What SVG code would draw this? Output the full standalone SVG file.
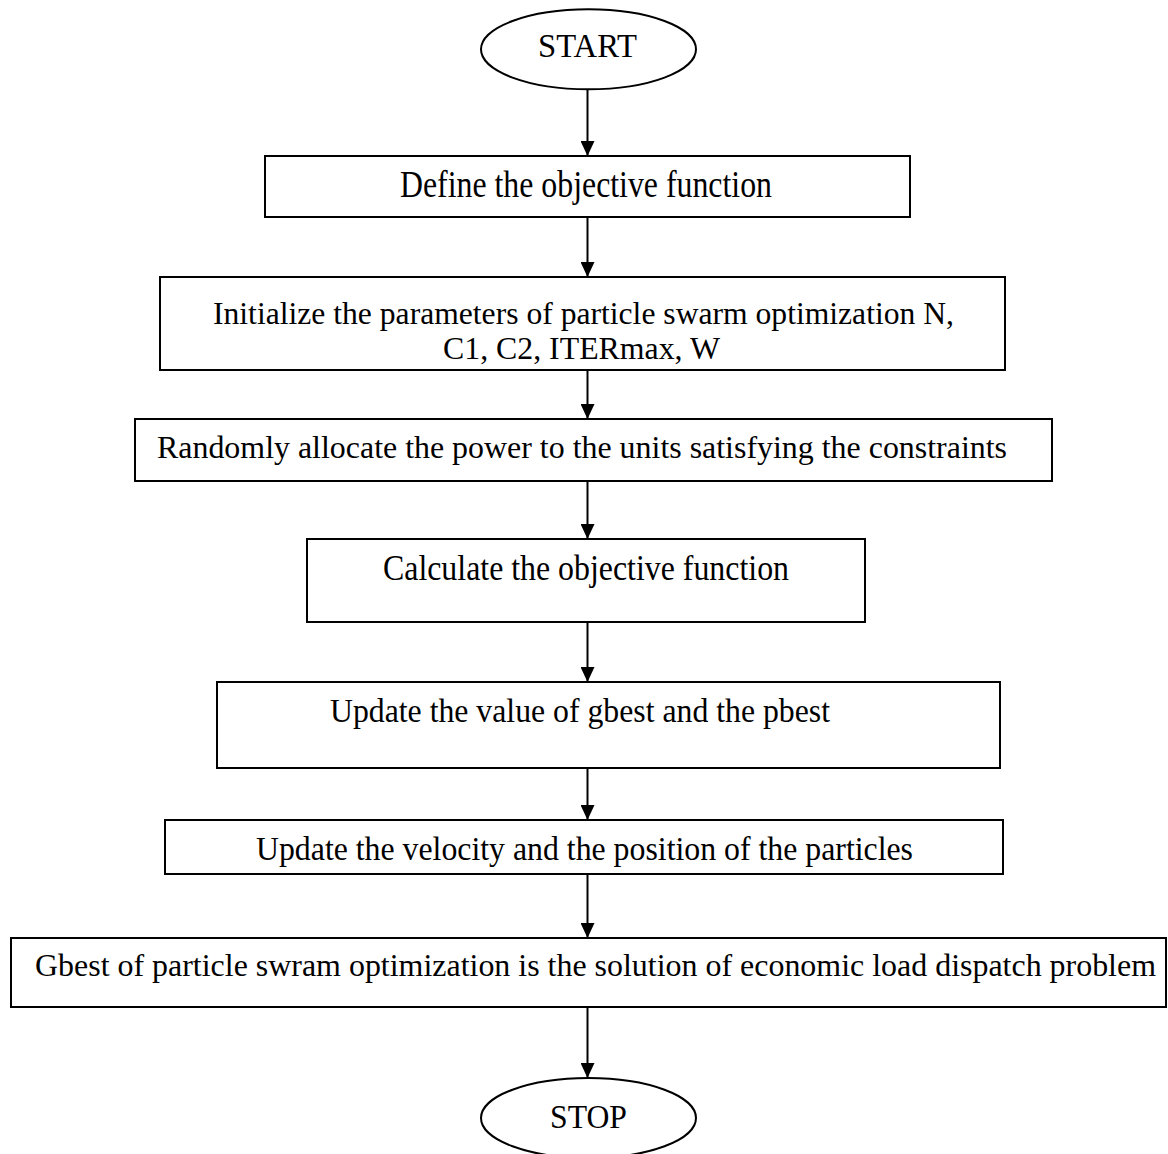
<svg xmlns="http://www.w3.org/2000/svg" width="1168" height="1154" viewBox="0 0 1168 1154">
<style>
.shape{fill:#fff;stroke:#000;stroke-width:2}
.lbl{font-family:"Liberation Serif","Times New Roman",serif;fill:#000;text-anchor:middle}
.conn{stroke:#000;stroke-width:2;fill:none}
</style>
<defs>
<marker id="ah" markerUnits="userSpaceOnUse" markerWidth="15" markerHeight="14" refX="15" refY="7" orient="auto">
<path d="M0,0 L15,7 L0,14 Z" fill="#000"/>
</marker>
</defs>
<rect width="1168" height="1154" fill="#fff"/>
<g id="connectors">
<line class="conn" x1="587.5" y1="89" x2="587.5" y2="156" marker-end="url(#ah)"/>
<line class="conn" x1="587.5" y1="217" x2="587.5" y2="277" marker-end="url(#ah)"/>
<line class="conn" x1="587.5" y1="370" x2="587.5" y2="419" marker-end="url(#ah)"/>
<line class="conn" x1="587.5" y1="481" x2="587.5" y2="539" marker-end="url(#ah)"/>
<line class="conn" x1="587.5" y1="622" x2="587.5" y2="682" marker-end="url(#ah)"/>
<line class="conn" x1="587.5" y1="768" x2="587.5" y2="820" marker-end="url(#ah)"/>
<line class="conn" x1="587.5" y1="874" x2="587.5" y2="938" marker-end="url(#ah)"/>
<line class="conn" x1="587.5" y1="1007" x2="587.5" y2="1078" marker-end="url(#ah)"/>
</g>
<g id="start">
<ellipse class="shape" cx="588.5" cy="49.3" rx="107.5" ry="40"/>
<text class="lbl" x="587.5" y="57.3" font-size="33" textLength="99" lengthAdjust="spacingAndGlyphs">START</text>
</g>
<g id="define">
<rect class="shape" x="265" y="156" width="645" height="61"/>
<text class="lbl" x="586" y="197" font-size="37" textLength="372" lengthAdjust="spacingAndGlyphs">Define the objective function</text>
</g>
<g id="initialize">
<rect class="shape" x="160" y="277" width="845" height="93"/>
<text class="lbl" x="583.5" y="324" font-size="31" textLength="741" lengthAdjust="spacingAndGlyphs">Initialize the parameters of particle swarm optimization N,</text>
<text class="lbl" x="581.5" y="359" font-size="31" textLength="277" lengthAdjust="spacingAndGlyphs">C1, C2, ITERmax, W</text>
</g>
<g id="randomly">
<rect class="shape" x="135" y="419" width="917" height="62"/>
<text class="lbl" x="582" y="458" font-size="31" textLength="850" lengthAdjust="spacingAndGlyphs">Randomly allocate the power to the units satisfying the constraints</text>
</g>
<g id="calculate">
<rect class="shape" x="307" y="539" width="558" height="83"/>
<text class="lbl" x="586" y="580" font-size="35" textLength="406" lengthAdjust="spacingAndGlyphs">Calculate the objective function</text>
</g>
<g id="update-best">
<rect class="shape" x="217" y="682" width="783" height="86"/>
<text class="lbl" x="580" y="722" font-size="33" textLength="500" lengthAdjust="spacingAndGlyphs">Update the value of gbest and the pbest</text>
</g>
<g id="update-velocity">
<rect class="shape" x="165" y="820" width="838" height="54"/>
<text class="lbl" x="584.5" y="860" font-size="34" textLength="657" lengthAdjust="spacingAndGlyphs">Update the velocity and the position of the particles</text>
</g>
<g id="gbest">
<rect class="shape" x="11" y="938" width="1155" height="69"/>
<text class="lbl" x="595.5" y="976" font-size="32" textLength="1121" lengthAdjust="spacingAndGlyphs">Gbest of particle swram optimization is the solution of economic load dispatch problem</text>
</g>
<g id="stop">
<ellipse class="shape" cx="588.5" cy="1118" rx="107.5" ry="40"/>
<text class="lbl" x="588.5" y="1128" font-size="33" textLength="77" lengthAdjust="spacingAndGlyphs">STOP</text>
</g>
</svg>
